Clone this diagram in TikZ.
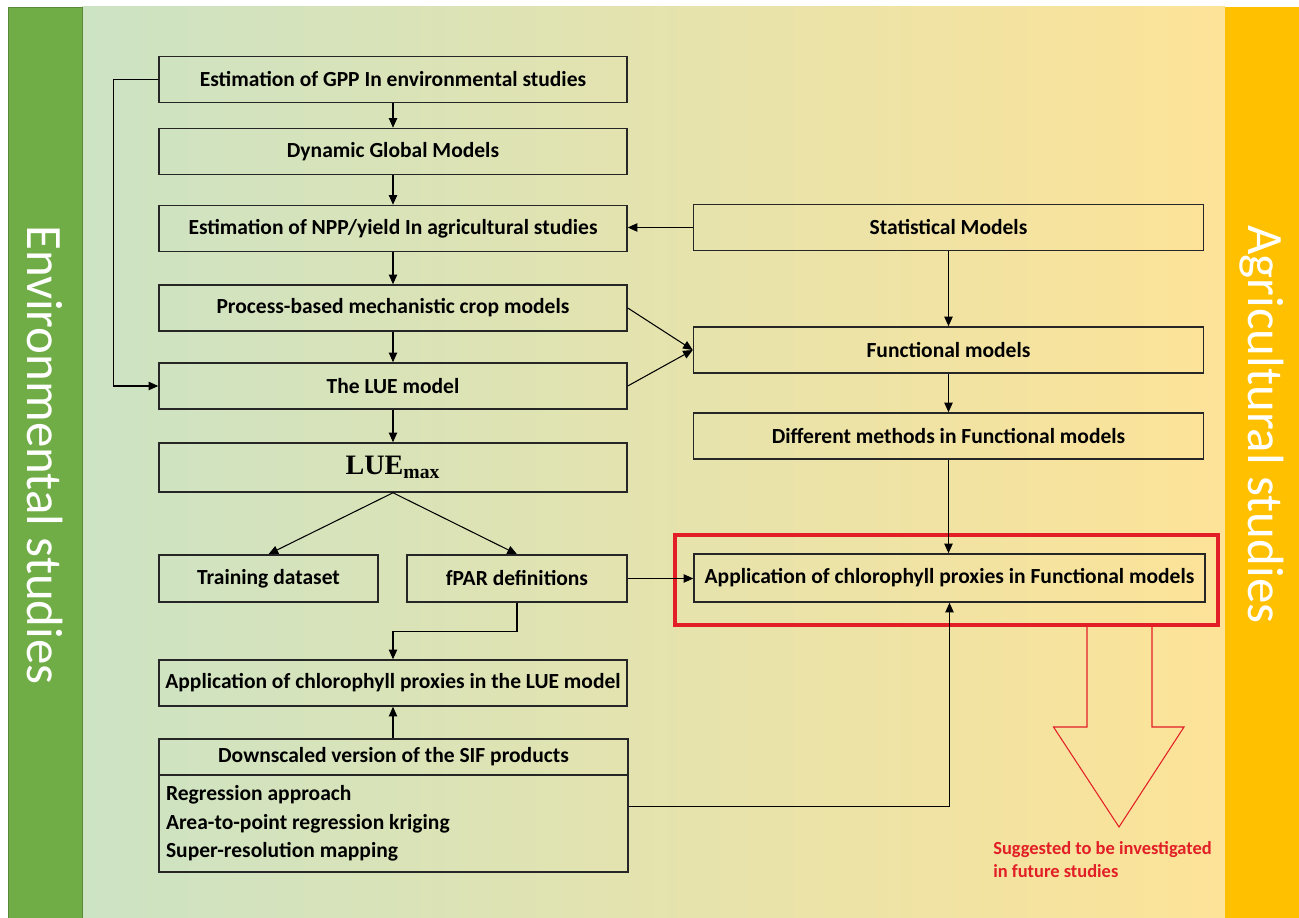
\documentclass[tikz,border=0pt]{standalone}
\usepackage{fontspec}
\setmainfont{Carlito}
\newfontfamily\luefont{Liberation Serif}
\usepackage{xcolor}
\usetikzlibrary{arrows.meta,calc}
\definecolor{envgreen}{RGB}{112,173,71}
\definecolor{agrorange}{RGB}{255,192,0}
\definecolor{bgleft}{RGB}{204,227,196}
\definecolor{bgmid}{RGB}{229,227,164}
\definecolor{bgright}{RGB}{253,227,152}
\definecolor{sugred}{RGB}{226,30,38}

\tikzset{
  box/.style={draw=black!85, line width=0.9pt, minimum width=9.36cm, minimum height=0.92cm, inner sep=2pt, font=\bfseries\fontsize{12.25}{14.8}\selectfont},
  rbox/.style={box, minimum width=10.2cm},
  arr/.style={-{Triangle[length=5.5pt,width=4.8pt]}, line width=0.6pt},
  sidetext/.style={rotate=-90, anchor=west, text=white, inner sep=0pt, font=\fontsize{29}{34}\selectfont}
}

\begin{document}
\begin{tikzpicture}[x=0.02cm, y=-0.02cm]
    \useasboundingbox (0,0) rectangle (1299,918);
    \fill[white] (0,0) rectangle (1299,918);
    \shade[left color=bgleft, middle color=bgmid, right color=bgright] (82,7) rectangle (1225,918);
    \filldraw[fill=envgreen, draw=envgreen!80!black, line width=0.4pt] (8,7) rectangle (82,918);
    \fill[agrorange] (1225,7) rectangle (1299,918);
    \node[sidetext] (envlabel) at (45,225) {Environmental studies};
    \node[sidetext] (agrlabel) at (1262,225) {Agricultural studies};

    \node[box] (gpp) at (393,79.5) {Estimation of GPP In environmental studies};
    \node[box] (dgm) at (393,151.5) {Dynamic Global Models};
    \node[box] (npp) at (393,228.5) {Estimation of NPP/yield In agricultural studies};
    \node[box] (proc) at (393,308) {Process-based mechanistic crop models};
    \node[box] (lue) at (393,386) {The LUE model};
    \node[box, minimum height=0.98cm, font=\luefont\bfseries\fontsize{16}{19}\selectfont] (luemax) at (393,467.5) {LUE\textsubscript{max}};
    \node[box, minimum width=4.38cm, minimum height=0.94cm] (train) at (268.5,578.5) {Training dataset};
    \node[box, minimum width=4.4cm, minimum height=0.94cm] (fpar) at (517,578.5) {fPAR definitions};
    \node[box] (chllue) at (393,683) {Application of chlorophyll proxies in the LUE model};
    \node[box, minimum width=9.38cm, minimum height=0.72cm] (down) at (393.5,757) {Downscaled version of the SIF products};
    \node[box, minimum width=9.38cm, minimum height=1.94cm, text width=9.1cm, align=flush left] (downlist) at (393.5,823.5) {Regression approach\\[1.5pt] Area-to-point regression kriging\\[1.5pt] Super-resolution mapping};

    \node[rbox] (stat) at (948.5,227.5) {Statistical Models};
    \node[rbox] (func) at (948.5,350) {Functional models};
    \node[rbox] (methods) at (948.5,436) {Different methods in Functional models};
    \node[rbox, minimum width=10.22cm, minimum height=0.96cm] (chlfun) at (949.5,578) {Application of chlorophyll proxies in Functional models};
    \node[draw=sugred, line width=2.3pt, minimum width=10.86cm, minimum height=1.8cm] (focus) at (946.5,580) {};
    \node[anchor=north west, align=left, inner sep=0pt, text=sugred, font=\bfseries\fontsize{10.5}{13}\selectfont] (note) at (993,841) {Suggested to be investigated\\in future studies};
    \draw[sugred, line width=0.6pt] (1087,627) -- (1087,727) -- (1053.5,727) -- (1119,827) -- (1184,727) -- (1152,727) -- (1152,627);

    \draw[arr] (gpp) -- (dgm);
    \draw[arr] (dgm) -- (npp);
    \draw[arr] (npp) -- (proc);
    \draw[arr] (proc) -- (lue);
    \draw[arr] (lue) -- (luemax);
    \draw[arr] (gpp.west) -- ++(-45,0) |- (lue.west);
    \draw[arr] (stat.west) -- (stat.west -| npp.east);
    \draw[arr] (stat) -- (func);
    \draw[arr] (proc.east) -- (func.west);
    \draw[arr] (lue.east) -- (func.west);
    \draw[arr] (func) -- (methods);
    \draw[arr] (methods.south) -- (methods.south |- chlfun.north);
    \draw[arr] (luemax.south) -- (train.north);
    \draw[arr] (luemax.south) -- (fpar.north);
    \draw[arr] (fpar.south) -- ++(0,29) -| (chllue.north);
    \draw[arr] (down.north -| chllue.south) -- (chllue.south);
    \draw[arr] (fpar.east) -- (fpar.east -| chlfun.west);
    \draw[arr] ([yshift=0.34cm]downlist.east) -| (chlfun.south);
\end{tikzpicture}
\end{document}
